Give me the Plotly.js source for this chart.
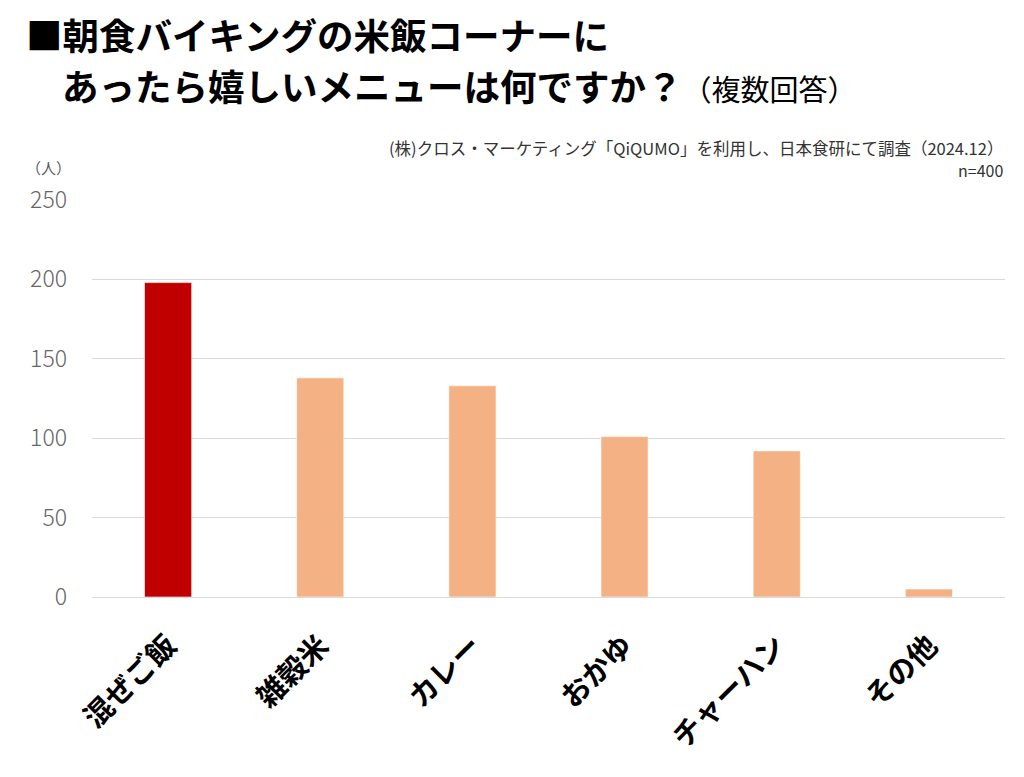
<!DOCTYPE html>
<html>
<head>
<meta charset="utf-8">
<script src="https://cdn.plot.ly/plotly-3.0.1.min.js"></script>
<style>html,body{margin:0;padding:0;background:#fff;}#chart{width:1024px;height:777px;}</style>
</head>
<body>
<div id="chart"></div>
<script>
const categories = ["混ぜご飯", "雑穀米", "カレー", "おかゆ", "チャーハン", "その他"];
const values = [198, 138, 133, 101, 92, 5];
const barColors = ["#C00000", "#F4B183", "#F4B183", "#F4B183", "#F4B183", "#F4B183"];
const yTicks = [0, 50, 100, 150, 200, 250];

const titleLine1 = "■朝食バイキングの米飯コーナーに";
const titleLine2 = "あったら嬉しいメニューは何ですか？";
const titleNote = "（複数回答）";
const sourceNote = "(株)クロス・マーケティング「QiQUMO」を利用し、日本食研にて調査（2024.12）";
const sampleNote = "n=400";
const unitLabel = "（人）";

const JP = '"Noto Sans CJK JP", "Noto Sans", sans-serif';

const trace = {
  type: "bar",
  x: categories,
  y: values,
  width: 0.31,
  marker: { color: barColors, line: { color: "rgba(255,255,255,0.6)", width: 1 } },
  hoverinfo: "x+y"
};

const layout = {
  width: 1024,
  height: 777,
  margin: { l: 92, r: 19, t: 200, b: 180 },
  paper_bgcolor: "#ffffff",
  plot_bgcolor: "#ffffff",
  showlegend: false,
  bargap: 0.69,
  title: {
    text: "<b>" + titleLine1 + "</b>",
    font: { family: JP, size: 36.5, color: "#000000" },
    xref: "container", yref: "container",
    x: 26 / 1024, xanchor: "left",
    y: 1 - 37 / 777, yanchor: "middle"
  },
  xaxis: {
    type: "category",
    tickangle: -45,
    tickfont: { family: JP, size: 29, color: "#000000", weight: "bold" },
    showgrid: false,
    showline: false,
    ticks: "",
    zeroline: false,
    ticklabelstandoff: 25
  },
  yaxis: {
    range: [0, 250],
    tickvals: yTicks,
    ticktext: yTicks.map(String),
    tickfont: { family: JP, size: 23, color: "#666666", weight: 300 },
    showgrid: true,
    gridcolor: "#d9d9d9",
    gridwidth: 1,
    zeroline: true,
    zerolinecolor: "#d9d9d9",
    zerolinewidth: 1,
    showline: false,
    ticks: "",
    ticklabelstandoff: 24,
    fixedrange: true
  },
  annotations: [
    {
      text: "<b>" + titleLine2 + "</b><span style='font-size:29px'>" + titleNote + "</span>",
      xref: "paper", yref: "paper",
      x: (60 - 92) / 913, xanchor: "left",
      y: (597 - 86) / 397, yanchor: "middle",
      showarrow: false,
      font: { family: JP, size: 36.5, color: "#000000" }
    },
    {
      text: sourceNote,
      xref: "paper", yref: "paper",
      x: 1, xanchor: "right",
      y: (597 - 148) / 397, yanchor: "middle",
      showarrow: false,
      font: { family: JP, size: 16.5, color: "#333333" }
    },
    {
      text: sampleNote,
      xref: "paper", yref: "paper",
      x: 1, xanchor: "right",
      y: (597 - 170) / 397, yanchor: "middle",
      showarrow: false,
      font: { family: JP, size: 16, color: "#333333" }
    },
    {
      text: unitLabel,
      xref: "paper", yref: "paper",
      x: (24 - 92) / 913, xanchor: "left",
      y: (597 - 168) / 397, yanchor: "middle",
      showarrow: false,
      font: { family: JP, size: 15, color: "#595959" }
    }
  ]
};

Plotly.newPlot("chart", [trace], layout, { displayModeBar: false, staticPlot: true });
</script>
</body>
</html>
